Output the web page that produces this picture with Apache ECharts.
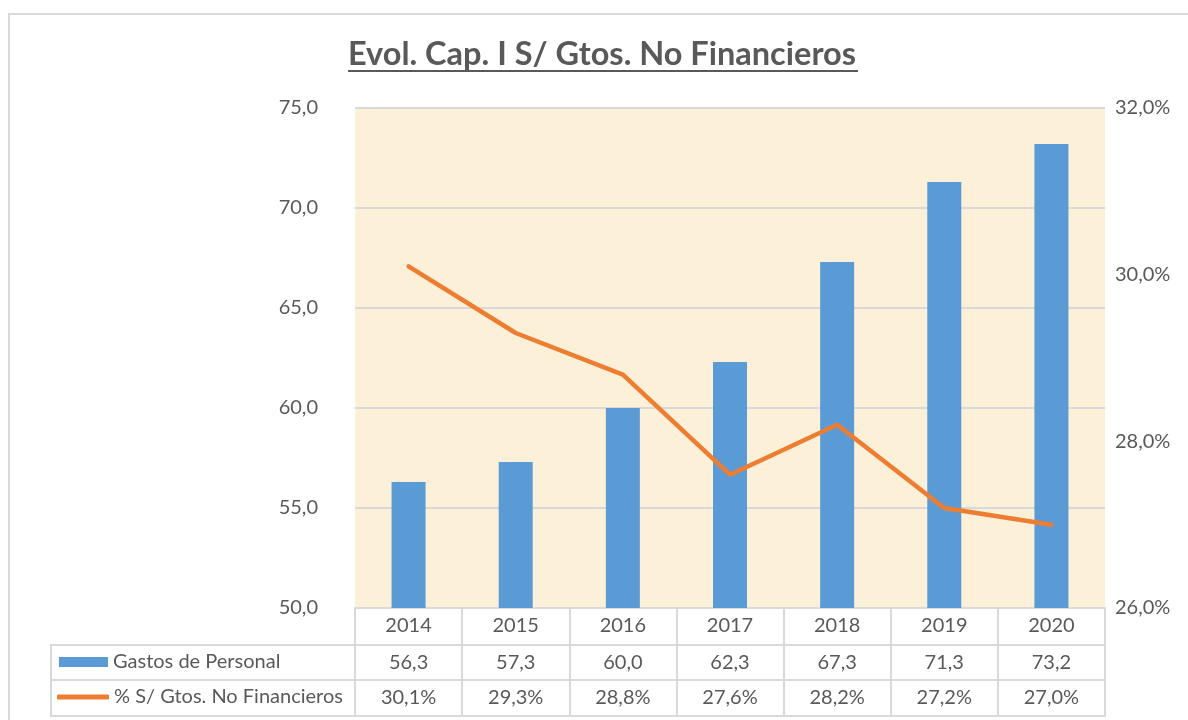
<!DOCTYPE html>
<html>
<head>
<meta charset="utf-8">
<script src="https://cdn.jsdelivr.net/npm/echarts@6/dist/echarts.min.js"></script>
<style>
  html, body { margin: 0; padding: 0; background: #fff; }
  #main { width: 1188px; height: 720px; }
</style>
</head>
<body>
<div id="main"></div>
<script>
var years = ['2014', '2015', '2016', '2017', '2018', '2019', '2020'];
var gastos = [56.3, 57.3, 60.0, 62.3, 67.3, 71.3, 73.2];
var pctGastos = [30.1, 29.3, 28.8, 27.6, 28.2, 27.2, 27.0];
var barName = 'Gastos de Personal';
var lineName = '% S/ Gtos. No Financieros';

function coma(v) { return v.toFixed(1).replace('.', ','); }

var gris = '#595959';
var borde = '#D9D9D9';
var font = 'Lato, "Open Sans", sans-serif';
var tam = 20;

// filas de la tabla de datos
var filaGastos = gastos.map(coma);
var filaPct = pctGastos.map(function (v) { return coma(v) + '%'; });

function ejeTabla(datos, offset, largo) {
    return {
        type: 'category',
        position: 'bottom',
        offset: offset,
        data: datos,
        axisLine: { show: true, lineStyle: { color: borde, width: 2 } },
        axisTick: { show: largo > 0, interval: 0, length: largo, lineStyle: { color: borde, width: 2 } },
        axisLabel: { show: datos.length > 0, interval: 0, margin: 8, fontSize: tam, color: gris, fontFamily: font },
        splitLine: { show: false }
    };
}

function leyenda(nombre, izq, arriba, ancho, alto, icono) {
    return {
        orient: 'vertical',
        left: izq,
        top: arriba,
        padding: 0,
        itemWidth: ancho,
        itemHeight: alto,
        textStyle: { fontSize: tam, color: gris, fontFamily: font },
        data: [{ name: nombre, icon: icono }]
    };
}

var myChart = echarts.init(document.getElementById('main'));
var option = {
    backgroundColor: '#fff',
    animation: false,
    title: {
        text: 'Evol. Cap. I S/ Gtos. No Financieros',
        left: 343,
        top: 33,
        textStyle: { fontSize: 32.5, fontWeight: 'bold', color: gris, fontFamily: font }
    },
    legend: [
        leyenda(barName, 59, 652, 49, 10, 'rect'),
        leyenda(lineName, 57, 687, 52, 5, 'roundRect')
    ],
    grid: {
        left: 355, right: 83, top: 108, bottom: 112,
        show: true, backgroundColor: '#FCF0D8', borderWidth: 0
    },
    xAxis: [
        ejeTabla(years, 0, 37),
        ejeTabla(filaGastos, 37, 35),
        ejeTabla(filaPct, 72, 36),
        ejeTabla([], 108, 0)
    ],
    yAxis: [
        {
            type: 'value', min: 50, max: 75, interval: 5,
            axisLine: { show: false }, axisTick: { show: false },
            axisLabel: { formatter: coma, fontSize: tam, color: gris, margin: 37, fontFamily: font },
            splitLine: { lineStyle: { color: borde, width: 2 } }
        },
        {
            type: 'value', min: 26, max: 32, interval: 2, position: 'right',
            axisLine: { show: false }, axisTick: { show: false },
            axisLabel: { formatter: function (v) { return coma(v) + '%'; }, fontSize: tam, color: gris, margin: 10, fontFamily: font },
            splitLine: { show: false }
        }
    ],
    series: [
        {
            name: barName, type: 'bar', data: gastos, barWidth: 34,
            itemStyle: { color: '#5B9BD5' }, xAxisIndex: 0, yAxisIndex: 0
        },
        {
            name: lineName, type: 'line', data: pctGastos, symbol: 'none',
            lineStyle: { color: '#ED7D31', width: 4.5, cap: 'round' }, itemStyle: { color: '#ED7D31' },
            xAxisIndex: 0, yAxisIndex: 1
        }
    ],
    graphic: [
        // marco exterior
        { type: 'polyline', shape: { points: [[9, 720], [9, 14], [1188, 14]] }, style: { stroke: borde, lineWidth: 2, fill: null } },
        // subrayado del titulo
        { type: 'line', shape: { x1: 348, y1: 71, x2: 858, y2: 71 }, style: { stroke: gris, lineWidth: 2 } },
        // columna de leyenda de la tabla
        { type: 'polyline', shape: { points: [[355, 645], [51, 645], [51, 716], [355, 716]] }, style: { stroke: borde, lineWidth: 2, fill: null } },
        { type: 'line', shape: { x1: 51, y1: 680, x2: 355, y2: 680 }, style: { stroke: borde, lineWidth: 2 } }
    ]
};
myChart.setOption(option);
</script>
</body>
</html>
